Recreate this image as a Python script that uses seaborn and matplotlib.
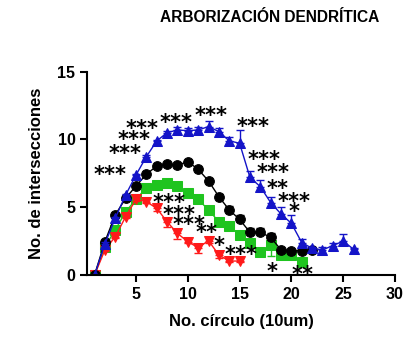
import numpy as np
import pandas as pd
import seaborn as sns
import matplotlib.pyplot as plt

sns.set_style("ticks")
plt.rcParams['font.family'] = ['Liberation Sans', 'DejaVu Sans']
plt.rcParams['text.color'] = 'black'
plt.rcParams['axes.labelcolor'] = 'black'
plt.rcParams['xtick.color'] = 'black'
plt.rcParams['ytick.color'] = 'black'
plt.rcParams['axes.edgecolor'] = 'black'

# data
circulo = list(range(1, 27))
negro = [0, 2.46, 4.43, 5.66, 6.57, 7.43, 8.04, 8.17, 8.1, 8.36, 7.8, 6.94, 5.78,
         4.8, 4.1, 3.15, 3.15, 2.78, 1.85, 1.8, 1.8, 1.85]
negro_err = [0, 0.1, 0.1, 0.1, 0.1, 0.1, 0.1, 0.1, 0.1, 0.1, 0.15, 0.15, 0.2,
             0.3, 0.3, 0.3, 0.3, 0.3, 0.1, 0.1, 0.1, 0.1]
azul = [0, 2.3, 4.2, 5.9, 7.38, 8.73, 9.89, 10.5, 10.7, 10.65, 10.7, 10.95, 10.58,
        9.9, 9.72, 7.2, 6.52, 5.34, 4.5, 3.81, 2.39, 1.97, 1.85, 2.17, 2.5, 1.9]
azul_err = [0, 0.1, 0.1, 0.1, 0.1, 0.1, 0.1, 0.1, 0.2, 0.2, 0.2, 0.4, 0.3,
            0.3, 1.0, 0.5, 0.5, 0.4, 0.5, 0.6, 0.3, 0.1, 0.2, 0.2, 0.5, 0.1]
verde = [0, 2.09, 3.32, 4.67, 5.58, 6.44, 6.64, 6.77, 6.57, 6.03, 5.58, 4.8, 3.93,
         3.64, 2.95, 2.34, 1.67, 2.21, 1.48, 1.48, 0.98]
verde_err = [0, 0.1, 0.1, 0.1, 0.1, 0.1, 0.1, 0.1, 0.1, 0.1, 0.1, 0.1, 0.1,
             0.1, 0.1, 0.1, 0.1, 0.8, 0.1, 0.1, 0.1]
rojo = [0, 1.85, 2.83, 4.3, 5.58, 5.41, 4.92, 3.93, 3.07, 2.46, 2.02, 2.53, 1.48,
        1.03, 1.03]
rojo_err = [0, 0.1, 0.1, 0.1, 0.1, 0.1, 0.2, 0.4, 0.4, 0.1, 0.4, 0.2, 0.2,
            0.1, 0.1]

# significance marks
sig_text = ['***', '***', '***', '***', '***', '***', '***', '***', '***', '**',
            '***', '*', '*', '**', '***', '***', '***', '**', '*', '***']
sig_x = [2.54, 3.91, 4.82, 5.56, 8.84, 12.26, 16.27, 17.35, 18.23, 18.67,
         20.23, 20.28, 18.13, 21.07, 8.15, 9.13, 10.11, 11.84, 13.04, 15.1]
sig_y = [7.62, 9.17, 10.18, 11.0, 11.44, 11.98, 11.2, 8.73, 7.75, 6.57,
         5.66, 4.92, 0.44, 0.24, 5.54, 4.67, 3.93, 3.32, 2.36, 1.72]

fig = plt.figure(figsize=(4.09, 3.37), dpi=100)
ax = fig.add_axes([87.3 / 409, 62 / 337, (395 - 87.3) / 409, (275 - 71.7) / 337])

series = [
    (verde, verde_err, '#1fc41f', 's', 'down'),
    (rojo, rojo_err, '#ff1a1a', 'v', 'down'),
    (negro, negro_err, 'black', 'o', 'up'),
    (azul, azul_err, '#1414c8', '^', 'up'),
]
for vals, err, col, mk, lado in series:
    df = pd.DataFrame({'x': circulo[:len(vals)], 'y': vals})
    if lado == 'up':
        yerr = [np.zeros(len(err)), err]
    else:
        yerr = [err, np.zeros(len(err))]
    ax.errorbar(df['x'], df['y'], yerr=yerr, fmt='none', ecolor=col,
                elinewidth=1, capsize=3, capthick=1)
    sns.lineplot(data=df, x='x', y='y', ax=ax, color=col, marker=mk,
                 markersize=7, markeredgecolor=col, linewidth=1)

for t, x, y in zip(sig_text, sig_x, sig_y):
    ax.text(x, y - 0.25, t, ha='center', va='center', fontsize=15,
            fontweight='bold', family='DejaVu Sans', color='black')

ax.set_xlim(0.3, 30)
ax.set_ylim(0, 15)
ax.set_xticks([5, 10, 15, 20, 25, 30])
ax.set_yticks([0, 5, 10, 15])
ax.tick_params(labelsize=11.5, width=1.5, length=5)
for lab in ax.get_xticklabels() + ax.get_yticklabels():
    lab.set_fontweight('bold')
for s in ['left', 'bottom']:
    ax.spines[s].set_linewidth(1.5)
sns.despine(ax=ax)

ax.set_xlabel('No. círculo (10um)', fontsize=12, fontweight='bold', labelpad=9)
ax.set_ylabel('No. de intersecciones', fontsize=12, fontweight='bold', labelpad=10)
fig.text(270 / 409, 1 - 18 / 337, 'ARBORIZACIÓN DENDRÍTICA', ha='center',
         va='center', fontsize=11.2, fontweight='bold')

fig.savefig('out.png', dpi=100)
